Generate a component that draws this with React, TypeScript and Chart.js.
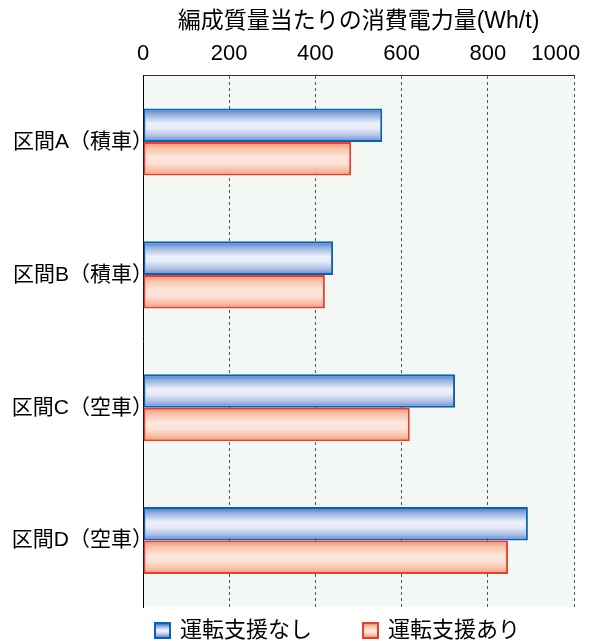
import React, { useEffect, useRef } from "react";
import { Chart, registerables } from "chart.js";

Chart.register(...registerables);

const categories = ["区間A（積車）", "区間B（積車）", "区間C（空車）", "区間D（空車）"];
const seriesNames = ["運転支援なし", "運転支援あり"];
const withoutAssist = [555, 441, 724, 893];
const withAssist = [483, 422, 619, 847];
const xTicks = [0, 200, 400, 600, 800, 1000];
const titleText = "編成質量当たりの消費電力量(Wh/t)";

const FONT = "'Liberation Sans', Arial, 'Noto Sans CJK JP', sans-serif";

const blueStops: [number, string][] = [
  [0, "#3a74c2"],
  [0.18, "#95b0e0"],
  [0.45, "#eef1fb"],
  [0.6, "#e6ebf8"],
  [0.82, "#aebfe6"],
  [1, "#5b86cc"],
];
const redStops: [number, string][] = [
  [0, "#f2946f"],
  [0.2, "#f9c4ae"],
  [0.45, "#fde7de"],
  [0.65, "#fce0d4"],
  [0.85, "#f8bca3"],
  [1, "#f29a78"],
];
const borderColors = ["#0b62b5", "#e8402b"];

function makeGrad(ctx: CanvasRenderingContext2D, y0: number, y1: number, stops: [number, string][]) {
  const g = ctx.createLinearGradient(0, y0, 0, y1);
  stops.forEach(([o, c]) => g.addColorStop(o, c));
  return g;
}

const bgPlugin = {
  id: "plotBg",
  beforeDraw(chart: any) {
    const { ctx, chartArea } = chart;
    ctx.save();
    ctx.fillStyle = "#f4f8f4";
    ctx.fillRect(chartArea.left, chartArea.top, chartArea.right - chartArea.left, chartArea.bottom - chartArea.top);
    ctx.restore();
  },
  beforeDatasetsDraw(chart: any) {
    const ctx = chart.ctx;
    chart.data.datasets.forEach((ds: any, di: number) => {
      const meta = chart.getDatasetMeta(di);
      const stops = di === 0 ? blueStops : redStops;
      meta.data.forEach((el: any) => {
        const p = el.getProps(["y", "height"], true);
        const y0 = p.y - p.height / 2;
        const y1 = p.y + p.height / 2;
        el.options = { ...el.options, backgroundColor: makeGrad(ctx, y0, y1, stops) };
      });
    });
  },
  afterDraw(chart: any) {
    const ctx = chart.ctx;
    ctx.save();
    ctx.font = `22px ${FONT}`;
    ctx.textBaseline = "middle";
    ctx.textAlign = "left";
    const cy = 630;
    const starts = [154, 362];
    chart.data.datasets.forEach((ds: any, di: number) => {
      const x = starts[di];
      const stops = di === 0 ? blueStops : redStops;
      ctx.fillStyle = borderColors[di];
      ctx.fillRect(x, cy - 8, 17, 17);
      ctx.fillStyle = makeGrad(ctx, cy - 6, cy + 7, stops);
      ctx.fillRect(x + 2, cy - 6, 13, 13);
      ctx.fillStyle = "#000";
      ctx.fillText(ds.label, x + 26, cy + 1);
    });
    ctx.restore();
  },
};

export default function App() {
  const ref = useRef<HTMLCanvasElement>(null);
  useEffect(() => {
    document.body.style.margin = "0";
    const chart = new Chart(ref.current!, {
      type: "bar",
      data: {
        labels: categories,
        datasets: [
          {
            label: seriesNames[0],
            data: withoutAssist,
            backgroundColor: "#dfe6f5",
            borderColor: borderColors[0],
            borderWidth: 2,
            borderSkipped: false,
          },
          {
            label: seriesNames[1],
            data: withAssist,
            backgroundColor: "#fbd8ca",
            borderColor: borderColors[1],
            borderWidth: 2,
            borderSkipped: false,
          },
        ],
      },
      options: {
        indexAxis: "y",
        responsive: false,
        animation: false,
        layout: { padding: { left: 0, right: 16, top: 0, bottom: 34 } },
        datasets: { bar: { categoryPercentage: 0.505, barPercentage: 1 } },
        plugins: {
          legend: { display: false },
          tooltip: { enabled: false },
          title: {
            display: true,
            text: titleText,
            fullSize: false,
            color: "#000",
            font: { family: FONT, size: 23, weight: "normal" },
            padding: { top: 8, bottom: 7 },
          },
        },
        scales: {
          x: {
            position: "top",
            min: 0,
            max: 1000,
            afterBuildTicks: (s: any) => {
              s.ticks = xTicks.map((v) => ({ value: v }));
            },
            afterFit: (s: any) => {
              s.height = 33;
              s.paddingLeft = 0;
              s.paddingRight = 0;
            },
            ticks: {
              color: "#000",
              padding: 8,
              maxRotation: 0,
              autoSkip: false,
              font: { family: FONT, size: 22 },
              callback: (v: any) => (v === 1000 ? "1000      " : String(v)),
            },
            grid: {
              color: (c: any) => (c.tick && c.tick.value === 0 ? "rgba(0,0,0,0)" : "#555"),
              drawTicks: false,
              lineWidth: 1,
            },
            border: { display: true, color: "#333", width: 1, dash: [3, 3] },
          },
          y: {
            afterFit: (s: any) => {
              s.width = 143;
              s.paddingTop = 0;
              s.paddingBottom = 0;
            },
            ticks: {
              color: "#000",
              padding: -10,
              font: { family: FONT, size: 21 },
            },
            grid: { display: false, drawTicks: false },
            border: { display: true, color: "#000", width: 1 },
          },
        },
      },
      plugins: [bgPlugin],
    } as any);
    return () => chart.destroy();
  }, []);
  return (
    <div style={{ width: 590, height: 641 }}>
      <canvas ref={ref} width={590} height={641} />
    </div>
  );
}
